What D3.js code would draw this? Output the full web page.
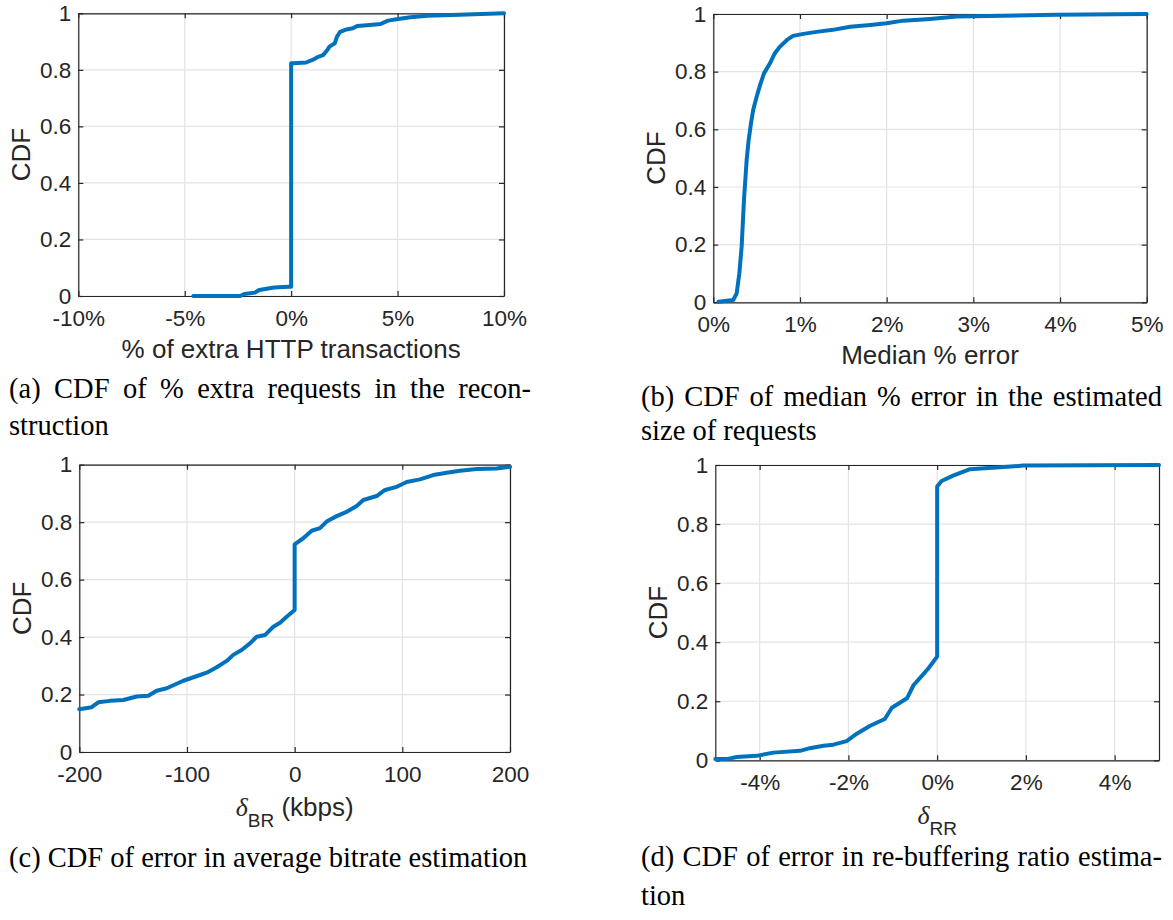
<!DOCTYPE html>
<html>
<head>
<meta charset="utf-8">
<script src="https://cdn.jsdelivr.net/npm/d3@7/dist/d3.min.js"></script>
<style>
  html, body { margin: 0; padding: 0; background: #fff; }
  svg { display: block; }
</style>
</head>
<body>
<svg id="fig" width="1173" height="920"></svg>
<script>
// ---------------- data ----------------
// (a) % of extra HTTP transactions
const extraPctX   = [-4.6, -2.4, -2.2, -1.7, -1.5, -0.8, -0.1, 0, 0, 0.1, 0.7, 1.0, 1.3, 1.5, 1.7, 1.8, 2.05, 2.15, 2.3, 2.6, 2.9, 3.1, 3.7, 4.2, 4.55, 4.95, 5.6, 6.4, 7.9, 10.0];
const extraPctCdf = [0, 0, 0.007, 0.012, 0.021, 0.03, 0.033, 0.033, 0.823, 0.823, 0.826, 0.835, 0.847, 0.852, 0.87, 0.882, 0.894, 0.917, 0.934, 0.943, 0.947, 0.955, 0.959, 0.962, 0.974, 0.979, 0.986, 0.991, 0.995, 1.0];

// (b) median % error in estimated request size
const sizeErrX   = [0.06, 0.23, 0.27, 0.30, 0.327, 0.354, 0.385, 0.408, 0.435, 0.46, 0.50, 0.54, 0.585, 0.654, 0.71, 0.77, 0.85, 0.92, 1.04, 1.19, 1.38, 1.58, 1.81, 2.0, 2.19, 2.5, 2.81, 3.19, 3.96, 5.0];
const sizeErrCdf = [0.002, 0.008, 0.031, 0.10, 0.193, 0.355, 0.494, 0.563, 0.621, 0.667, 0.713, 0.754, 0.794, 0.829, 0.864, 0.887, 0.91, 0.924, 0.931, 0.938, 0.945, 0.956, 0.962, 0.968, 0.977, 0.983, 0.991, 0.993, 0.997, 1.0];

// (c) error in average bitrate (kbps)
const bitrateErrX   = [-200, -188.5, -182.4, -171.5, -159.1, -146.7, -135.9, -128.1, -118.8, -103.4, -87.9, -81.7, -72.4, -63.1, -57.0, -49.2, -41.5, -35.3, -27.6, -19.8, -13.6, -7.4, 0, 0, 8.0, 15.8, 23.5, 29.7, 39.0, 48.3, 57.6, 63.8, 76.2, 83.9, 94.8, 104.1, 116.4, 128.8, 141.2, 153.6, 169.1, 187.6, 200];
const bitrateErrCdf = [0.149, 0.156, 0.173, 0.178, 0.181, 0.193, 0.196, 0.213, 0.222, 0.248, 0.268, 0.276, 0.295, 0.317, 0.338, 0.355, 0.378, 0.401, 0.407, 0.436, 0.45, 0.471, 0.494, 0.723, 0.744, 0.77, 0.779, 0.802, 0.821, 0.836, 0.856, 0.877, 0.891, 0.912, 0.923, 0.94, 0.949, 0.964, 0.972, 0.979, 0.985, 0.987, 0.993];

// (d) error in re-buffering ratio, %
const rebufErrX   = [-5.0, -4.74, -4.52, -4.07, -3.69, -3.09, -2.87, -2.56, -2.34, -2.04, -1.81, -1.51, -1.18, -1.02, -0.68, -0.53, -0.38, -0.2, 0, 0, 0.1, 0.36, 0.74, 1.42, 1.94, 5.0];
const rebufErrCdf = [0.004, 0.004, 0.011, 0.015, 0.026, 0.032, 0.041, 0.049, 0.053, 0.065, 0.09, 0.117, 0.14, 0.178, 0.21, 0.255, 0.28, 0.311, 0.351, 0.927, 0.946, 0.964, 0.986, 0.992, 0.998, 1.0];

// tick values
const cdfTicks = [0, 0.2, 0.4, 0.6, 0.8, 1];
const ticksA = [-10, -5, 0, 5, 10];
const ticksB = [0, 1, 2, 3, 4, 5];
const ticksC = [-200, -100, 0, 100, 200];
const ticksD = [-4, -2, 0, 2, 4];

// captions
const captionA = ["(a) CDF of % extra requests in the recon-", "struction"];
const captionB = ["(b) CDF of median % error in the estimated", "size of requests"];
const captionC = ["(c) CDF of error in average bitrate estimation"];
const captionD = ["(d) CDF of error in re-buffering ratio estima-", "tion"];

// ---------------- drawing ----------------
const SANS = "'Liberation Sans', Arial, Helvetica, sans-serif";
const SERIF = "'Liberation Serif', 'Times New Roman', serif";
const INK = "#262626";
const LINE = "#0072BD";
const GRID = "#e3e3e3";

const svg = d3.select("#fig");
svg.append("rect").attr("width", 1173).attr("height", 920).attr("fill", "#fff");

const pct = d => String(d) + "%";
const plain = d => String(d);

function panel(cfg) {
  const { box, xDomain, xTicks, xFmt, xs, ys } = cfg;
  const x = d3.scaleLinear().domain(xDomain).range([box.left, box.right]);
  const y = d3.scaleLinear().domain([0, 1]).range([box.bottom, box.top]);
  const g = svg.append("g");

  // grid
  g.append("g").selectAll("line").data(xTicks).join("line")
    .attr("x1", d => x(d)).attr("x2", d => x(d))
    .attr("y1", box.top).attr("y2", box.bottom)
    .attr("stroke", GRID).attr("stroke-width", 1.2);
  g.append("g").selectAll("line").data(cdfTicks).join("line")
    .attr("x1", box.left).attr("x2", box.right)
    .attr("y1", d => y(d)).attr("y2", d => y(d))
    .attr("stroke", GRID).attr("stroke-width", 1.2);

  const styleAxis = sel => {
    sel.select(".domain").attr("stroke", INK).attr("stroke-width", 1.2);
    sel.selectAll(".tick line").attr("stroke", INK).attr("stroke-width", 1.2);
    sel.selectAll(".tick text").attr("fill", INK)
      .attr("font-family", SANS).attr("font-size", 22.5);
  };

  // axes with inward ticks on all four sides
  g.append("g").attr("transform", `translate(0,${box.bottom})`)
    .call(d3.axisBottom(x).tickValues(xTicks).tickFormat(xFmt)
      .tickSizeInner(-5).tickSizeOuter(0).tickPadding(14))
    .call(styleAxis).attr("font-size", null).attr("font-family", null);
  g.append("g").attr("transform", `translate(0,${box.top})`)
    .call(d3.axisTop(x).tickValues(xTicks).tickFormat("")
      .tickSizeInner(-5).tickSizeOuter(0))
    .call(styleAxis);
  g.append("g").attr("transform", `translate(${box.left},0)`)
    .call(d3.axisLeft(y).tickValues(cdfTicks).tickFormat(plain)
      .tickSizeInner(-5).tickSizeOuter(0).tickPadding(7))
    .call(styleAxis).attr("font-size", null).attr("font-family", null);
  g.append("g").attr("transform", `translate(${box.right},0)`)
    .call(d3.axisRight(y).tickValues(cdfTicks).tickFormat("")
      .tickSizeInner(-5).tickSizeOuter(0))
    .call(styleAxis);

  // CDF curve
  const pts = xs.map((v, i) => [v, ys[i]]);
  g.append("path").datum(pts)
    .attr("d", d3.line().x(d => x(d[0])).y(d => y(d[1])))
    .attr("fill", "none").attr("stroke", LINE)
    .attr("stroke-width", 4).attr("stroke-linejoin", "round").attr("stroke-linecap", "round");

  // y label
  const cy = (box.top + box.bottom) / 2;
  g.append("text")
    .attr("transform", `translate(${box.left - 48},${cy}) rotate(-90)`)
    .attr("text-anchor", "middle").attr("font-family", SANS).attr("font-size", 26)
    .attr("fill", INK).text("CDF");

  // x label
  const cx = (box.left + box.right) / 2;
  const xl = g.append("text")
    .attr("x", cx).attr("text-anchor", "middle")
    .attr("font-family", SANS).attr("font-size", 26).attr("fill", INK);
  cfg.xLabel(xl, box);
}

function plainLabel(str) {
  return (t, box) => t.attr("y", box.bottom + 62).text(str);
}
function deltaLabel(sub, rest) {
  return (t, box) => {
    t.attr("y", box.bottom + 64);
    t.append("tspan").attr("font-family", SERIF).attr("font-style", "italic").text("δ");
    t.append("tspan").attr("font-size", 19).attr("dy", 11).text(sub);
    if (rest) t.append("tspan").attr("dy", -11).text(" " + rest);
  };
}

panel({ box: { left: 78.3, right: 504, top: 13.3, bottom: 296 }, xDomain: [-10, 10], xTicks: ticksA, xFmt: pct,
  xs: extraPctX, ys: extraPctCdf, xLabel: plainLabel("% of extra HTTP transactions") });
panel({ box: { left: 713.3, right: 1146.7, top: 14, bottom: 302.3 }, xDomain: [0, 5], xTicks: ticksB, xFmt: pct,
  xs: sizeErrX, ys: sizeErrCdf, xLabel: plainLabel("Median % error") });
panel({ box: { left: 79.3, right: 510, top: 464.7, bottom: 752 }, xDomain: [-200, 200], xTicks: ticksC, xFmt: plain,
  xs: bitrateErrX, ys: bitrateErrCdf, xLabel: deltaLabel("BR", "(kbps)") });
panel({ box: { left: 715.3, right: 1159, top: 465, bottom: 760.3 }, xDomain: [-5, 5], xTicks: ticksD, xFmt: pct,
  xs: rebufErrX, ys: rebufErrCdf, xLabel: deltaLabel("RR", null) });

// captions; every line but the last of a paragraph is justified to the column width
function caption(lines, left, width, baselines) {
  lines.forEach((str, i) => {
    const t = svg.append("text")
      .attr("x", left).attr("y", baselines[i])
      .attr("font-family", SERIF).attr("font-size", 28.5).attr("fill", "#000")
      .text(str);
    if (i < lines.length - 1) {
      const len = t.node().getComputedTextLength();
      const gaps = (str.match(/ /g) || []).length;
      if (gaps > 0) t.attr("word-spacing", (width - len) / gaps);
    }
  });
}
caption(captionA, 9, 522, [398, 435]);
caption(captionB, 641, 521, [406, 440]);
caption(captionC, 9, 522, [867]);
caption(captionD, 641, 521, [866, 905]);
</script>
</body>
</html>
